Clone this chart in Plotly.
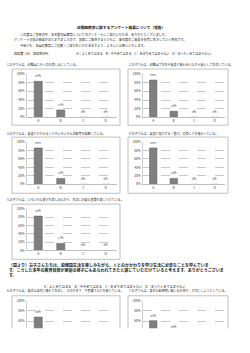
import plotly.graph_objects as go

W, H = 250, 353
def X(p): return p / W
def Y(p): return 1 - p / H

FONT = "Noto Sans CJK JP"

categories = ["A", "B", "C", "D"]
tick_vals = [0, 20, 40, 60, 80, 100]
tick_text = ["0%", "20%", "40%", "60%", "80%", "100%"]

q1 = [83, 17, 0, 0]
q2 = [86, 14, 0, 0]
q3 = [86, 14, 0, 0]
q4 = [86, 14, 0, 0]
q5 = [83, 17, 0, 0]
q6 = [68, 32, 0, 0]
q7 = [61, 39, 0, 0]
series = [q1, q2, q3, q4, q5, q6, q7]

captions = [
    "1.お子さんは、幼稚園に行くのを楽しみにしている。",
    "2.お子さんは、幼稚園で先生や友達と触れ合いながら安心して生活している。",
    "3.お子さんは、友達とかかわることやいろいろな活動等を経験している。",
    "4.お子さんは、友達と協力する「遊び」の楽しさを味わっている。",
    "5.お子さんは、いろいろな遊びを楽しみながら、生活に必要な習慣を身につけている。",
    "6.お子さんは、身近な自然に触れて生活し、その大きさ、不思議さなどを感じている。",
    "7.お子さんは、身近な動植物に親しみを持ち、大切にしようとしている。",
]

LEFT = dict(bx0=12, bx1=120, px0=27, px1=117, cx=5)
RIGHT = dict(bx0=128, bx1=228, px0=143, px1=225, cx=127)
rows = [
    dict(by0=67, by1=124, pt=72, pb=116, cy=62),
    dict(by0=136, by1=193, pt=141, pb=184, cy=132),
    dict(by0=204, by1=260, pt=209, pb=251, cy=199),
    dict(by0=297, by1=330, pt=302, pb=330, cy=292),
]
placement = [(0, LEFT), (0, RIGHT), (1, LEFT), (1, RIGHT), (2, LEFT), (3, LEFT), (3, RIGHT)]

fig = go.Figure()
shapes = []
annotations = []
layout_axes = {}

for i, (vals, (ri, col)) in enumerate(zip(series, placement), start=1):
    r = rows[ri]
    cut = ri == 3
    fig.add_trace(go.Bar(
        x=categories, y=vals, xaxis=f"x{i}", yaxis=f"y{i}",
        marker=dict(color="#7f7f7f", line=dict(color="#5a5a5a", width=0.5)),
        width=0.36, text=[f"{v}%" for v in vals], textposition="outside",
        textfont=dict(size=2.8, color="#404040", family=FONT),
        showlegend=False, hoverinfo="skip",
    ))
    layout_axes[f"xaxis{i}"] = dict(
        domain=[X(col["px0"]), X(col["px1"])], anchor=f"y{i}",
        range=[-0.5, 3.5], showgrid=False, zeroline=False,
        showline=not cut, linecolor="#bfbfbf", linewidth=0.6,
        showticklabels=not cut, tickfont=dict(size=3.5, color="#404040", family=FONT),
        ticks="", fixedrange=True,
    )
    layout_axes[f"yaxis{i}"] = dict(
        domain=[Y(r["pb"]), Y(r["pt"])], anchor=f"x{i}",
        range=[46, 100] if cut else [0, 100],
        tickvals=tick_vals, ticktext=tick_text,
        tickfont=dict(size=3.1, color="#404040", family=FONT),
        showgrid=True, gridcolor="#c8c8c8", gridwidth=0.5, griddash="dash",
        zeroline=False, showline=True, linecolor="#d0d0d0", linewidth=0.5,
        ticks="", ticklabelstandoff=1, fixedrange=True,
    )
    if cut:
        shapes.append(dict(type="path", xref="paper", yref="paper",
                           path=f"M {X(col['bx0'])} {Y(r['by1'])} L {X(col['bx0'])} {Y(r['by0'])} "
                                f"L {X(col['bx1'])} {Y(r['by0'])} L {X(col['bx1'])} {Y(r['by1'])}",
                           line=dict(color="#b0b0b0", width=0.8)))
    else:
        shapes.append(dict(type="rect", xref="paper", yref="paper",
                           x0=X(col["bx0"]), x1=X(col["bx1"]), y0=Y(r["by1"]), y1=Y(r["by0"]),
                           line=dict(color="#b0b0b0", width=0.8)))
    annotations.append(dict(text=captions[i - 1], x=X(col["cx"]), y=Y(r["cy"]),
                            xref="paper", yref="paper", xanchor="left", yanchor="middle",
                            showarrow=False, font=dict(size=3.0, color="#333", family=FONT)))

def txt(s, px, py, size, anchor="left"):
    annotations.append(dict(text=s, x=X(px), y=Y(py), xref="paper", yref="paper",
                            xanchor=anchor, yanchor="middle", showarrow=False,
                            font=dict(size=size, color="#222", family=FONT)))

txt("<b>幼稚園教育に関するアンケート結果について（報告）</b>", 121, 25, 3.7, "center")
txt("この度はご多用の中、本年度の園教育についてのアンケートにご協力いただき、ありがとうございました。", 18, 32, 3.1)
txt("アンケートの集計結果がまとまりましたので、皆様にご報告するとともに、来年度のご意見を参考に生かしていく所存です。", 12, 37.5, 3.1)
txt("今後とも、本園の教育にご理解・ご協力をいただきますよう、よろしくお願いいたします。", 18, 43, 3.1)
txt("回答数：62　回収率84%", 12, 51, 3.1)
txt("（A：よくあてはまる　B：ややあてはまる　C：あまりあてはまらない　D：まったくあてはまらない）", 72, 51, 3.0)

txt("<b>〈園より〉お子さんたちは、幼稚園生活を楽しみながら、人とのかかわりを学び生活に必要なことを学んでいま</b>", 7, 266, 4.0)
txt("<b>す。こうした本年の教育目標が家庭の様子にもあらわれてきたと感じていただけていると考えます。ありがとうございま</b>", 7, 271, 4.0)
txt("<b>す。</b>", 7, 276, 4.0)
txt("A：よくあてはまる　B：ややあてはまる　C：あまりあてはまらない　D：まったくあてはまらない", 42, 288, 3.2)

fig.update_layout(
    width=W, height=H, margin=dict(l=0, r=0, t=0, b=0),
    paper_bgcolor="white", plot_bgcolor="white",
    shapes=shapes, annotations=annotations, bargap=0.5,
    font=dict(family=FONT), **layout_axes,
)
fig.write_html("out.html", config={"displayModeBar": False})
